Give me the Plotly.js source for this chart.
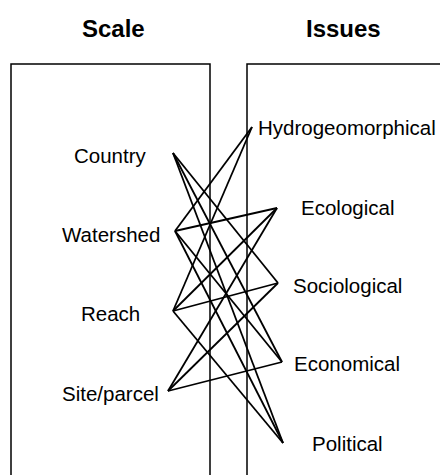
<!DOCTYPE html>
<html>
<head>
<meta charset="utf-8">
<script src="https://cdn.plot.ly/plotly-3.0.1.min.js"></script>
<style>html,body{margin:0;padding:0;background:#fff;}#chart{width:440px;height:475px;}</style>
</head>
<body>
<div id="chart"></div>
<script>
// Data
const scaleTitle = "Scale";
const issueTitle = "Issues";
const scales = ["Country", "Watershed", "Reach", "Site/parcel"];
const issues = ["Hydrogeomorphical", "Ecological", "Sociological", "Economical", "Political"];
// links: [scale index, issue index]
const links = [
  [0, 2], [0, 3], [0, 4],
  [1, 0], [1, 1], [1, 3], [1, 4],
  [2, 0], [2, 1], [2, 2], [2, 4],
  [3, 1], [3, 2], [3, 3]
];

// Layout (pixel coordinates)
const W = 440, H = 475;
const leftBox = {x0: 11, x1: 210, y0: 64, y1: 490};
const rightBox = {x0: 247, x1: 460, y0: 64, y1: 490};
const scaleLabelY = [155, 234, 313, 393];
const scaleAnchor = [[173, 153], [175, 231], [173, 311], [168, 391]];
const issueLabelY = [127, 207, 285, 363, 443];
const issueAnchor = [[252, 127], [277, 208], [278, 283], [282, 362], [283, 443]];

const traces = links.map(([s, i]) => ({
  type: "scatter", mode: "lines",
  x: [scaleAnchor[s][0], issueAnchor[i][0]],
  y: [scaleAnchor[s][1], issueAnchor[i][1]],
  line: {color: "#000", width: 1.8},
  hoverinfo: "skip", showlegend: false
}));

const font = {family: "Liberation Sans, Arial, sans-serif", color: "#000"};
const annotations = [];
annotations.push({x: 113, y: 28, text: "<b>" + scaleTitle + "</b>", showarrow: false, xref: "x", yref: "y",
  font: Object.assign({}, font, {size: 24}), xanchor: "center", yanchor: "middle"});
annotations.push({x: 343, y: 28, text: "<b>" + issueTitle + "</b>", showarrow: false, xref: "x", yref: "y",
  font: Object.assign({}, font, {size: 24}), xanchor: "center", yanchor: "middle"});
scales.forEach((t, k) => annotations.push({x: 110.5, y: scaleLabelY[k], text: t, showarrow: false,
  xref: "x", yref: "y", font: Object.assign({}, font, {size: 20.5}), xanchor: "center", yanchor: "middle"}));
issues.forEach((t, k) => annotations.push({x: 347, y: issueLabelY[k], text: t, showarrow: false,
  xref: "x", yref: "y", font: Object.assign({}, font, {size: 20.5}), xanchor: "center", yanchor: "middle"}));

const shapes = [leftBox, rightBox].map(b => ({type: "rect", xref: "x", yref: "y",
  x0: b.x0, x1: b.x1, y0: b.y0, y1: b.y1, line: {color: "#000", width: 1.5}, layer: "below"}));

const layout = {
  width: W, height: H, margin: {l: 0, r: 0, t: 0, b: 0},
  paper_bgcolor: "#fff", plot_bgcolor: "#fff",
  xaxis: {range: [0, W], visible: false, fixedrange: true},
  yaxis: {range: [H, 0], visible: false, fixedrange: true},
  shapes: shapes, annotations: annotations, showlegend: false
};
Plotly.newPlot("chart", traces, layout, {staticPlot: true, displayModeBar: false});
</script>
</body>
</html>
